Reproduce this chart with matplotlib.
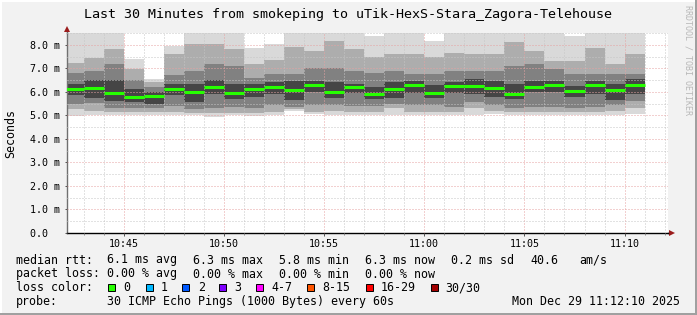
import matplotlib
matplotlib.use("Agg")
from matplotlib import pyplot as plt
from matplotlib.patches import Rectangle
from matplotlib.ticker import FuncFormatter, MultipleLocator

# start of every one-minute bar, minutes after 10:00
bar_start = list(range(42, 71))

# per-minute rtt in ms: median and the nested smoke bands
median_ms = [6.14, 6.16, 5.97, 5.76, 5.84, 6.12, 5.99, 6.20, 5.94, 6.10,
             6.20, 6.07, 6.28, 5.99, 6.20, 5.89, 6.13, 6.31, 5.93, 6.23,
             6.23, 6.17, 5.90, 6.21, 6.28, 6.03, 6.28, 6.06, 6.31]
max_ms = [8.6, 8.6, 8.6, 7.40, 6.55, 7.93, 8.6, 8.6, 8.6, 7.86,
          8.04, 8.6, 8.6, 8.6, 8.6, 8.37, 8.6, 8.6, 8.18, 8.6,
          8.6, 8.6, 8.6, 8.6, 8.6, 8.37, 8.6, 8.6, 8.6]
hi1_ms = [7.22, 7.43, 7.80, 6.95, 6.40, 7.60, 8.05, 8.05, 7.80, 7.20,
          7.35, 7.90, 7.75, 8.15, 7.80, 7.50, 7.60, 7.60, 7.50, 7.65,
          7.60, 7.60, 8.10, 7.75, 7.30, 7.30, 7.85, 7.20, 7.60]
hi2_ms = [6.80, 6.87, 7.20, 6.50, 6.20, 6.70, 6.90, 7.20, 7.10, 6.60,
          6.75, 6.75, 7.00, 7.00, 6.90, 6.80, 6.90, 6.75, 6.75, 6.90,
          6.90, 6.90, 7.10, 7.20, 6.95, 6.75, 6.75, 6.75, 6.75]
hi3_ms = [6.35, 6.50, 6.50, 6.10, 6.00, 6.35, 6.35, 6.50, 6.35, 6.35,
          6.40, 6.45, 6.45, 6.40, 6.35, 6.20, 6.40, 6.45, 6.30, 6.40,
          6.55, 6.45, 6.35, 6.45, 6.45, 6.25, 6.45, 6.35, 6.55]
lo3_ms = [5.85, 5.73, 5.60, 5.55, 5.50, 5.85, 5.55, 5.90, 5.70, 5.80,
          5.90, 5.65, 6.00, 5.75, 5.95, 5.70, 5.75, 5.95, 5.75, 5.95,
          5.90, 5.80, 5.70, 6.00, 6.00, 5.80, 5.90, 5.65, 5.90]
lo2_ms = [5.50, 5.52, 5.30, 5.30, 5.30, 5.40, 5.25, 5.30, 5.35, 5.30,
          5.45, 5.35, 5.45, 5.45, 5.40, 5.40, 5.50, 5.45, 5.45, 5.35,
          5.55, 5.45, 5.30, 5.35, 5.35, 5.30, 5.35, 5.45, 5.60]
lo1_ms = [5.25, 5.20, 5.15, 5.15, 5.15, 5.15, 5.10, 5.10, 5.10, 5.10,
          5.15, 5.25, 5.15, 5.20, 5.15, 5.15, 5.30, 5.15, 5.15, 5.15,
          5.30, 5.20, 5.15, 5.15, 5.15, 5.15, 5.15, 5.20, 5.30]
min_ms = [4.98, 5.00, 5.00, 5.00, 5.00, 5.00, 5.00, 4.95, 5.00, 4.98,
          5.02, 5.18, 5.05, 5.00, 5.00, 5.00, 5.00, 5.00, 5.00, 5.00,
          5.00, 5.05, 5.00, 5.00, 5.00, 5.00, 5.00, 5.00, 5.05]

title = "Last 30 Minutes from smokeping to uTik-HexS-Stara_Zagora-Telehouse"
y_ticks = [0, 1, 2, 3, 4, 5, 6, 7, 8]
y_tick_labels = ["0.0  ", "1.0 m", "2.0 m", "3.0 m", "4.0 m", "5.0 m", "6.0 m", "7.0 m", "8.0 m"]
x_ticks = [45, 50, 55, 60, 65, 70]

rtt_row = ["median rtt:", "6.1 ms avg", "6.3 ms max", "5.8 ms min", "6.3 ms now", "0.2 ms sd", "40.6", "am/s"]
loss_row = ["packet loss:", "0.00 % avg", "0.00 % max", "0.00 % min", "0.00 % now"]
loss_labels = ["0", "1", "2", "3", "4-7", "8-15", "16-29", "30/30"]
loss_colors = ["#26ff00", "#00b8ff", "#0059ff", "#7e00ff", "#ff00ff", "#ff5500", "#ff0000", "#a10000"]
probe_text = "30 ICMP Echo Pings (1000 Bytes) every 60s"
stamp = "Mon Dec 29 11:12:10 2025"

W, H = 697, 315
MONO = "DejaVu Sans Mono"


def put(fig, x, y, s, **kw):
    # x, y in pixels from the top-left corner, y is the baseline
    kw.setdefault("fontsize", 8.4)
    kw.setdefault("va", "baseline")
    fig.text(x / W, 1 - y / H, s, family=MONO, color=kw.pop("color", "#000000"), **kw)


def minute_label(v, pos):
    v = int(round(v))
    return f"{10 + v // 60}:{v % 60:02d}"


def main():
    fig = plt.figure(figsize=(W / 100, H / 100), dpi=100, facecolor="#f2f2f2")

    ax = fig.add_axes([67 / W, 82 / H, 601 / W, 200 / H])
    ax.set_facecolor("white")

    bands = [
        (min_ms, max_ms, "#d9d9d9"),
        (lo1_ms, hi1_ms, "#adadad"),
        (lo2_ms, hi2_ms, "#818181"),
        (lo3_ms, hi3_ms, "#454545"),
    ]
    for lo, hi, c in bands:
        ax.bar(bar_start, [h - l for h, l in zip(hi, lo)], bottom=lo, width=1,
               align="edge", color=c, linewidth=0, zorder=1)

    ax.hlines(median_ms, bar_start, [s + 1 for s in bar_start],
              color=loss_colors[0], linewidth=2.2, zorder=3)

    ax.set_xlim(42 + 10 / 60, 72 + 10 / 60)
    ax.set_ylim(0, 8.5)

    ax.set_xticks(x_ticks)
    ax.xaxis.set_major_formatter(FuncFormatter(minute_label))
    ax.xaxis.set_minor_locator(MultipleLocator(1))
    ax.set_yticks(y_ticks)
    ax.set_yticklabels(y_tick_labels)
    ax.yaxis.set_minor_locator(MultipleLocator(0.5))

    ax.set_axisbelow(False)
    ax.grid(which="major", color="#e6a3a3", linewidth=0.72, linestyle=(0, (1, 2)))
    ax.grid(which="minor", color="#c6c6c6", linewidth=0.72, linestyle=(0, (1, 2)))

    for lab in ax.get_xticklabels() + ax.get_yticklabels():
        lab.set_family(MONO)
    ax.tick_params(axis="x", which="major", length=2.2, width=0.7, color="#555555",
                   labelsize=7.2, pad=2.2)
    ax.tick_params(axis="x", which="minor", length=1.4, width=0.7, color="#888888")
    ax.tick_params(axis="y", which="major", length=1.5, width=0.7, color="#555555",
                   labelsize=7.2, pad=3.6)
    ax.tick_params(axis="y", which="minor", length=0)

    ax.spines[["top", "right"]].set_visible(False)
    ax.spines["left"].set_color("#707070")
    ax.spines["bottom"].set_color("#000000")
    ax.spines[["left", "bottom"]].set_linewidth(1.0)
    ax.plot([0, 0], [1, 1.02], color="#707070", lw=1.0, transform=ax.transAxes, clip_on=False)
    ax.plot([1, 1.004], [0, 0], color="#000000", lw=1.0, transform=ax.transAxes, clip_on=False)
    ax.plot(0, 1.022, "^", color="#9b1c1c", ms=4.2, mew=0, transform=ax.transAxes, clip_on=False)
    ax.plot(1.006, 0, ">", color="#9b1c1c", ms=4.2, mew=0, transform=ax.transAxes, clip_on=False)

    # title, axis label, watermark
    put(fig, 348, 18.3, title, fontsize=9.6, ha="center")
    fig.text(11 / W, 1 - 133 / H, "Seconds", family=MONO, fontsize=8.4,
             rotation=90, ha="center", va="center")
    fig.text(688 / W, 1 - 60 / H, "RRDTOOL / TOBI OETIKER", family=MONO, fontsize=6,
             rotation=270, ha="center", va="center", color="#b8b8b8")

    # legend rows
    for s, x in zip(rtt_row, [16, 107, 193, 279, 365, 451, 530, 579]):
        put(fig, x, 263.5, s)
    for s, x in zip(loss_row, [16, 107, 193, 279, 365]):
        put(fig, x, 277.5, s)
    put(fig, 16, 291.2, "loss color:")
    box_x = [108, 146, 182, 219, 256, 307, 366, 431]
    text_x = [123, 161, 198, 234, 271, 322, 381, 445]
    for lab, c, bx, tx in zip(loss_labels, loss_colors, box_x, text_x):
        fig.add_artist(Rectangle((bx / W, 1 - 291 / H), 7 / W, 7 / H, transform=fig.transFigure,
                                 facecolor=c, edgecolor="#000000", linewidth=0.7))
        put(fig, tx, 291.2, lab)
    put(fig, 16, 305.3, "probe:")
    put(fig, 107, 305.3, probe_text)
    put(fig, 680, 305.3, stamp, ha="right")

    # 3d frame around the canvas
    for x, y, w, h, c in [(0, 1 - 2 / H, 1, 2 / H, "#ffffff"), (0, 0, 2 / W, 1, "#ffffff"),
                          (1 - 2 / W, 0, 2 / W, 1, "#a0a0a0"), (0, 0, 1, 2 / H, "#a0a0a0")]:
        fig.add_artist(Rectangle((x, y), w, h, transform=fig.transFigure, color=c, lw=0))

    fig.savefig("out.png", dpi=100, facecolor=fig.get_facecolor())


if __name__ == '__main__':
    main()
